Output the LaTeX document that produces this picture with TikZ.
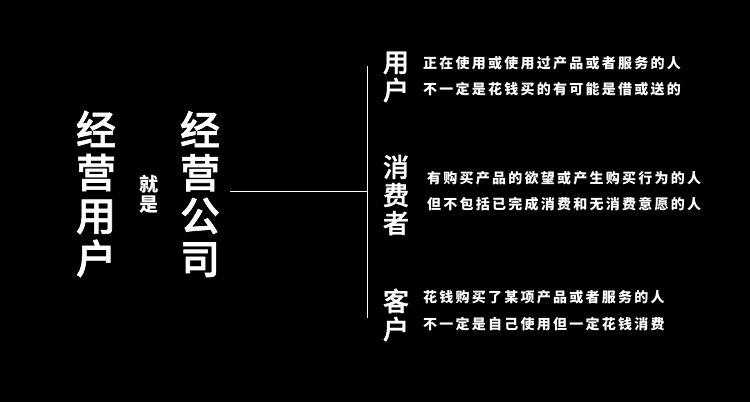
\documentclass[tikz,border=0pt]{standalone}
\usepackage{fontspec}
\newfontfamily\cjk{Noto Sans CJK SC}
\newfontfamily\cjkmed[FakeBold=1.5]{Noto Sans CJK SC Medium}
\newfontfamily\cjkls[LetterSpace=16]{Noto Sans CJK SC}
\begin{document}
\begin{tikzpicture}[x=1pt,y=-1pt,
  bigstack/.style={text=white,inner sep=0pt,align=center,font=\cjkmed\fontsize{40}{43}\selectfont},
  smallstack/.style={text=white,inner sep=0pt,align=center,font=\cjk\bfseries\fontsize{19}{20}\selectfont},
  labelstack/.style={text=white,inner sep=0pt,align=center,font=\cjkmed\fontsize{26}{28}\selectfont},
  desc/.style={text=white,inner sep=0pt,anchor=west,font=\cjkls\bfseries\fontsize{14}{16}\selectfont},
  rule/.style={draw=white,line width=1pt}]
\fill[black] (0,0) rectangle (750,402);
\useasboundingbox (0,0) rectangle (750,402);
\node[bigstack] (left) at (96,194) {经\\营\\用\\户};
\node[smallstack] (is) at (149,194) {就\\是};
\node[bigstack] (right) at (200,194) {经\\营\\公\\司};
\coordinate (hstart) at (230,191);
\coordinate (vtop) at (367,66);
\coordinate (vmid) at (367,191);
\coordinate (vbot) at (367,318);
\draw[rule] (hstart) -- (vmid);
\draw[rule] (vtop) -- (vbot);
\node[labelstack] (user) at (396,77) {用\\户};
\node[labelstack] (consumer) at (396,195) {消\\费\\者};
\node[labelstack] (client) at (396,315) {客\\户};
\node[desc] (u1) at (423,63) {正在使用或使用过产品或者服务的人};
\node[desc] (u2) at (423,89) {不一定是花钱买的有可能是借或送的};
\node[desc] (c1) at (427,178) {有购买产品的欲望或产生购买行为的人};
\node[desc] (c2) at (427,204) {但不包括已完成消费和无消费意愿的人};
\node[desc] (k1) at (423,297) {花钱购买了某项产品或者服务的人};
\node[desc] (k2) at (423,324) {不一定是自己使用但一定花钱消费};
\end{tikzpicture}
\end{document}
